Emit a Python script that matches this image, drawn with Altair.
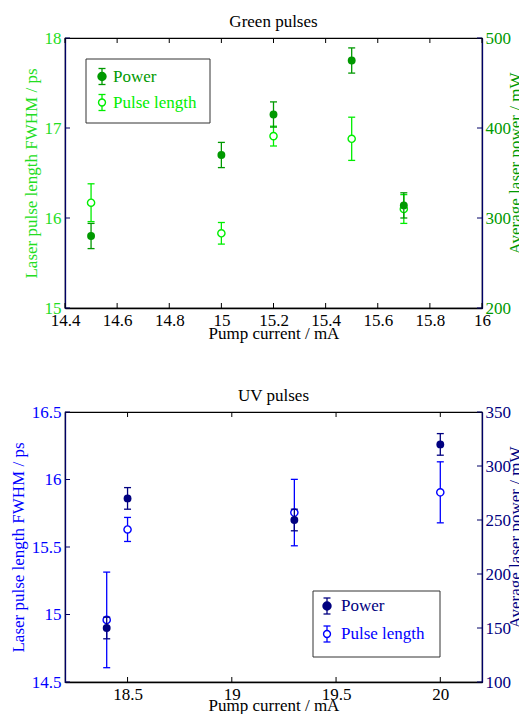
import altair as alt
import pandas as pd

FONT = "Liberation Serif"
NAVY_SPINE = "#000066"

# ---------------- data: Green pulses ----------------
g_current = [14.5, 15.0, 15.2, 15.5, 15.7]
g_pulse = [16.17, 15.83, 16.91, 16.88, 16.10]
g_pulse_err = [0.21, 0.12, 0.11, 0.24, 0.16]
g_power = [280, 370, 415, 475, 314]
g_power_err = [14, 14, 14, 14, 14]
g_x_ticks = [14.4, 14.6, 14.8, 15.0, 15.2, 15.4, 15.6, 15.8, 16.0]
g_left_ticks = [15, 16, 17, 18]
g_right_ticks = [200, 300, 400, 500]

# ---------------- data: UV pulses ----------------
uv_current = [18.4, 18.5, 19.3, 20.0]
uv_pulse = [14.96, 15.63, 15.755, 15.905]
uv_pulse_err = [0.354, 0.089, 0.246, 0.226]
uv_power = [150, 270, 250, 320]
uv_power_err = [10, 10, 10, 10]
uv_x_ticks = [18.5, 19.0, 19.5, 20.0]
uv_left_ticks = [14.5, 15.0, 15.5, 16.0, 16.5]
uv_right_ticks = [100, 150, 200, 250, 300, 350]

legend_labels = ["Power", "Pulse length"]

W, H = 417, 270


def panel(title, cur, pl, pl_err, pw, pw_err, x_dom, x_ticks, l_dom, l_ticks,
          r_dom, r_ticks, c_power, c_pulse, c_left_lab, leg, xt_pad):
    df = pd.DataFrame({
        "x": cur,
        "pl": pl,
        "pl_lo": [v - e for v, e in zip(pl, pl_err)],
        "pl_hi": [v + e for v, e in zip(pl, pl_err)],
        "pw": pw,
        "pw_lo": [v - e for v, e in zip(pw, pw_err)],
        "pw_hi": [v + e for v, e in zip(pw, pw_err)],
    })
    xs = alt.Scale(domain=x_dom, nice=False, zero=False)
    ls = alt.Scale(domain=l_dom, nice=False, zero=False)
    rs = alt.Scale(domain=r_dom, nice=False, zero=False)
    xax = alt.Axis(values=x_ticks, format="~g", ticks=False, grid=False,
                   domainColor="black", labelColor="black", labelPadding=4,
                   title="Pump current / mA", titleColor="black",
                   titlePadding=xt_pad, labelFlush=False, labelOverlap=False)
    X = alt.X("x:Q", scale=xs, axis=xax)

    # pulse length (left axis)
    lax = alt.Axis(orient="left", values=l_ticks, format="~g", ticks=False,
                   grid=False, domainColor=NAVY_SPINE, labelColor=c_left_lab,
                   titleColor=c_left_lab, labelPadding=4, titlePadding=4,
                   title="Laser pulse length FWHM / ps", labelFlush=False,
                   labelOverlap=False)
    pbase = alt.Chart(df).encode(x=X)
    p_rule = pbase.mark_rule(color=c_pulse, strokeWidth=1.3).encode(
        y=alt.Y("pl_lo:Q", scale=ls, axis=lax), y2="pl_hi:Q")
    p_cap1 = pbase.mark_tick(orient="horizontal", size=7, thickness=1.3,
                             color=c_pulse, opacity=1).encode(
        y=alt.Y("pl_lo:Q", scale=ls, axis=lax))
    p_cap2 = pbase.mark_tick(orient="horizontal", size=7, thickness=1.3,
                             color=c_pulse, opacity=1).encode(
        y=alt.Y("pl_hi:Q", scale=ls, axis=lax))
    p_pt = pbase.mark_point(filled=True, fill="white", stroke=c_pulse,
                            strokeWidth=1.4, size=52, opacity=1,
                            shape="circle").encode(
        y=alt.Y("pl:Q", scale=ls, axis=lax))
    ltick = alt.Chart(pd.DataFrame({"t": l_ticks})).mark_rule(
        color=NAVY_SPINE, strokeWidth=1).encode(
        y=alt.Y("t:Q", scale=ls, axis=lax), x=alt.value(0), x2=alt.value(5))
    pulse_layer = alt.layer(p_rule, p_cap1, p_cap2, p_pt, ltick)

    # power (right axis)
    rax = alt.Axis(orient="right", values=r_ticks, format="d", ticks=False,
                   grid=False, domainColor=NAVY_SPINE, labelColor=c_power,
                   titleColor=c_power, labelPadding=3,
                   title="Average laser power / mW", titleAngle=270,
                   titleX=38, titleY=125, titleAlign="center",
                   titleBaseline="alphabetic",
                   labelFlush=False, labelOverlap=False)
    wbase = alt.Chart(df).encode(x=X)
    w_rule = wbase.mark_rule(color=c_power, strokeWidth=1.3).encode(
        y=alt.Y("pw_lo:Q", scale=rs, axis=rax), y2="pw_hi:Q")
    w_cap1 = wbase.mark_tick(orient="horizontal", size=7, thickness=1.3,
                             color=c_power, opacity=1).encode(
        y=alt.Y("pw_lo:Q", scale=rs, axis=rax))
    w_cap2 = wbase.mark_tick(orient="horizontal", size=7, thickness=1.3,
                             color=c_power, opacity=1).encode(
        y=alt.Y("pw_hi:Q", scale=rs, axis=rax))
    w_pt = wbase.mark_circle(color=c_power, size=62, opacity=1).encode(
        y=alt.Y("pw:Q", scale=rs, axis=rax))
    rtick = alt.Chart(pd.DataFrame({"t": r_ticks})).mark_rule(
        color=NAVY_SPINE, strokeWidth=1).encode(
        y=alt.Y("t:Q", scale=rs, axis=rax), x=alt.value(W - 5), x2=alt.value(W))
    power_layer = alt.layer(w_rule, w_cap1, w_cap2, w_pt, rtick)

    # inward x ticks (top and bottom)
    xt = pd.DataFrame({"x": x_ticks})
    xt_top = alt.Chart(xt).mark_rule(color="black", strokeWidth=1).encode(
        x=X, y=alt.value(0), y2=alt.value(5))
    xt_bot = alt.Chart(xt).mark_rule(color="black", strokeWidth=1).encode(
        x=X, y=alt.value(H - 5), y2=alt.value(H))

    # legend (drawn manually)
    bx0, bx1, by0, by1, mx, tx, y1, y2 = leg
    one = alt.Chart(pd.DataFrame({"a": [0]}))
    box = one.mark_rect(fill="white", stroke="#333333", strokeWidth=1).encode(
        x=alt.value(bx0), x2=alt.value(bx1), y=alt.value(by0), y2=alt.value(by1))
    legs = [box]
    for yy, col, filled, lab in [(y1, c_power, True, legend_labels[0]),
                                 (y2, c_pulse, False, legend_labels[1])]:
        legs.append(one.mark_rule(color=col, strokeWidth=1.3).encode(
            x=alt.value(mx), y=alt.value(yy - 8), y2=alt.value(yy + 8)))
        legs.append(one.mark_rule(color=col, strokeWidth=1.3).encode(
            x=alt.value(mx - 3.5), x2=alt.value(mx + 3.5), y=alt.value(yy - 8)))
        legs.append(one.mark_rule(color=col, strokeWidth=1.3).encode(
            x=alt.value(mx - 3.5), x2=alt.value(mx + 3.5), y=alt.value(yy + 8)))
        if filled:
            legs.append(one.mark_point(filled=True, fill=col, stroke=col,
                                       size=55, opacity=1, shape="circle").encode(
                x=alt.value(mx), y=alt.value(yy)))
        else:
            legs.append(one.mark_point(filled=True, fill="white", stroke=col,
                                       strokeWidth=1.4, size=48, opacity=1,
                                       shape="circle").encode(
                x=alt.value(mx), y=alt.value(yy)))
        legs.append(one.mark_text(text=lab, color=col, font=FONT, fontSize=17,
                                  align="left", baseline="middle").encode(
            x=alt.value(tx), y=alt.value(yy)))

    main = alt.layer(pulse_layer, power_layer).resolve_scale(y="independent")
    return alt.layer(main, xt_top, xt_bot, *legs).properties(
        width=W, height=H,
        title=alt.TitleParams(title, font=FONT, fontSize=17, fontWeight="normal",
                              color="black", offset=-2))


top = panel("Green pulses", g_current, g_pulse, g_pulse_err, g_power, g_power_err,
            [14.4, 16.0], g_x_ticks, [15, 18], g_left_ticks, [200, 500], g_right_ticks,
            "#009900", "#00ee00", "#22dd22",
            (21, 145, 21, 85, 37, 48, 38.5, 64.5), -3)
bottom = panel("UV pulses", uv_current, uv_pulse, uv_pulse_err, uv_power, uv_power_err,
               [18.2, 20.2], uv_x_ticks, [14.5, 16.5], uv_left_ticks, [100, 350],
               uv_right_ticks, "#000080", "#0000ff", "#0000ff",
               (248, 375, 179, 245, 262, 276, 194, 222), -5)

chart = alt.vconcat(top, bottom, spacing=44).properties(
    padding={"left": 0, "top": 4, "right": -5, "bottom": 0}
).configure_view(stroke="black", strokeWidth=1.2).configure_axis(
    labelFont=FONT, titleFont=FONT, labelFontSize=17, titleFontSize=17,
    titleFontWeight="normal", domainWidth=1.3
).configure_title(font=FONT, fontSize=17, fontWeight="normal", anchor="middle")

chart.save("out.html", embed_options={"renderer": "svg", "actions": False})
